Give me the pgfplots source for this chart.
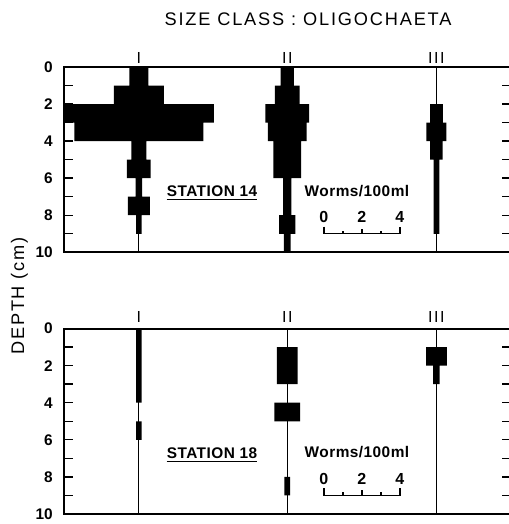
\documentclass[border=0pt]{standalone}
\usepackage{pgfplots}
\pgfplotsset{compat=1.18}
\usepackage{pgfplotstable}
\usepackage{fontspec}
\setmainfont{Liberation Sans}
\newfontfamily\titlefont{Liberation Sans}[LetterSpace=10]
\newfontfamily\labfont{Liberation Sans}[LetterSpace=3]
\newfontfamily\numfont{Liberation Sans}[LetterSpace=6]

% Station 14
\pgfplotstableread{
d v
0 1.00
1 2.63
2 7.90
3 6.80
4 0.80
5 1.25
6 0.35
7 1.15
8 0.30
9 0
10 0
}\tAone
\pgfplotstableread{
d v
0 0.70
1 1.30
2 2.30
3 2.05
4 1.45
5 1.45
6 0.44
7 0.44
8 0.86
9 0.35
10 0
}\tAtwo
\pgfplotstableread{
d v
0 0
1 0
2 0.67
3 1.05
4 0.65
5 0.30
6 0.30
7 0.30
8 0.30
9 0
10 0
}\tAthree
% Station 18
\pgfplotstableread{
d v
0 0.30
1 0.30
2 0.30
3 0.30
4 0
5 0.28
6 0
7 0
8 0
9 0
10 0
}\tBone
\pgfplotstableread{
d v
0 0
1 1.09
2 1.09
3 0
4 1.35
5 0
6 0
7 0
8 0.30
9 0
10 0
}\tBtwo
\pgfplotstableread{
d v
0 0
1 1.09
2 0.35
3 0
4 0
5 0
6 0
7 0
8 0
9 0
10 0
}\tBthree

\pgfplotsset{
  colax/.style={scale only axis, width=446.5pt, height=185.3pt, hide axis,
    ymin=0, ymax=10, y dir=reverse, clip=false, anchor=north west},
}

% #1 y position, #2 xmin, #3 xmax, #4 table, #5 label, #6 label depth
\newcommand{\kitecol}[6]{%
\begin{axis}[colax, at={(64pt,#1)}, xmin=#2, xmax=#3]
\addplot[xbar interval, fill=black, draw=none] table[x expr=\thisrow{v}/2, y=d]{#4};
\addplot[xbar interval, fill=black, draw=none] table[x expr=-\thisrow{v}/2, y=d]{#4};
\addplot[line width=1.2pt, mark=none, black] coordinates {(0,0) (0,10)};
\node[font=\titlefont\fontsize{16}{16}\selectfont, inner sep=0pt] at (axis cs:0,#6) {#5};
\end{axis}}

% #1 y position, #2 station text
\newcommand{\panel}[2]{%
\begin{axis}[scale only axis, width=446.5pt, height=185.3pt, at={(64pt,#1)}, anchor=north west,
  xmin=0, xmax=23.5, ymin=0, ymax=10, y dir=reverse, clip=false,
  xtick=\empty, ytick={0,1,2,3,4,5,6,7,8,9,10}, yticklabels={0,,2,,4,,6,,8,,10},
  tick align=inside, major tick length=9pt,
  tick style={line width=1.4pt, black},
  axis line style={line width=1.8pt},
  /pgf/number format/assume math mode=true,
  yticklabel style={font=\bfseries\fontsize{15.4}{16}\selectfont, inner sep=0pt, anchor=east, xshift=-11pt}]
\node[anchor=base, inner sep=0pt, font=\labfont\bfseries\fontsize{15.4}{16}\selectfont] (st) at (axis cs:7.79,7.0) {#2};
\draw[line width=1.3pt] ([yshift=-3pt]st.base west) -- ([yshift=-3pt]st.base east);
\node[anchor=base, inner sep=0pt, font=\labfont\bfseries\fontsize{15.4}{16}\selectfont] at (axis cs:15.42,6.97) {Worms/100ml};
\node[anchor=base, inner sep=0pt, font=\bfseries\fontsize{16}{16}\selectfont] at (axis cs:13.68,8.4) {0};
\node[anchor=base, inner sep=0pt, font=\bfseries\fontsize{16}{16}\selectfont] at (axis cs:15.68,8.4) {2};
\node[anchor=base, inner sep=0pt, font=\bfseries\fontsize{16}{16}\selectfont] at (axis cs:17.68,8.4) {4};
\draw[line width=1.2pt] (axis cs:13.68,8.62) -- (axis cs:13.68,9.0) -- (axis cs:17.68,9.0) -- (axis cs:17.68,8.62);
\draw[line width=1.2pt] (axis cs:15.68,9.0) -- (axis cs:15.68,8.72);
\draw[line width=1.2pt] (axis cs:14.68,9.0) -- (axis cs:14.68,8.84);
\draw[line width=1.2pt] (axis cs:16.68,9.0) -- (axis cs:16.68,8.84);
\end{axis}}

\begin{document}
\begin{tikzpicture}[x=1pt,y=1pt]
\node[anchor=base, inner sep=0pt, font=\titlefont\fontsize{18.2}{20}\selectfont] at (308,-25.7) {SIZE CLASS : OLIGOCHAETA};
\node[rotate=90, anchor=base, inner sep=0pt, font=\titlefont\fontsize{18.2}{20}\selectfont] at (24,-296) {DEPTH (cm)};

\panel{-67pt}{STATION 14}
\kitecol{-67pt}{-3.94}{19.56}{\tAone}{I}{-0.51}
\kitecol{-67pt}{-11.75}{11.75}{\tAtwo}{II}{-0.51}
\kitecol{-67pt}{-19.6}{3.9}{\tAthree}{III}{-0.51}

\panel{-328.6pt}{STATION 18}
\kitecol{-328.6pt}{-3.94}{19.56}{\tBone}{I}{-0.6}
\kitecol{-328.6pt}{-11.75}{11.75}{\tBtwo}{II}{-0.6}
\kitecol{-328.6pt}{-19.6}{3.9}{\tBthree}{III}{-0.6}

\pgfresetboundingbox
\path[use as bounding box] (0,0) rectangle (508,-524);
\end{tikzpicture}
\end{document}
